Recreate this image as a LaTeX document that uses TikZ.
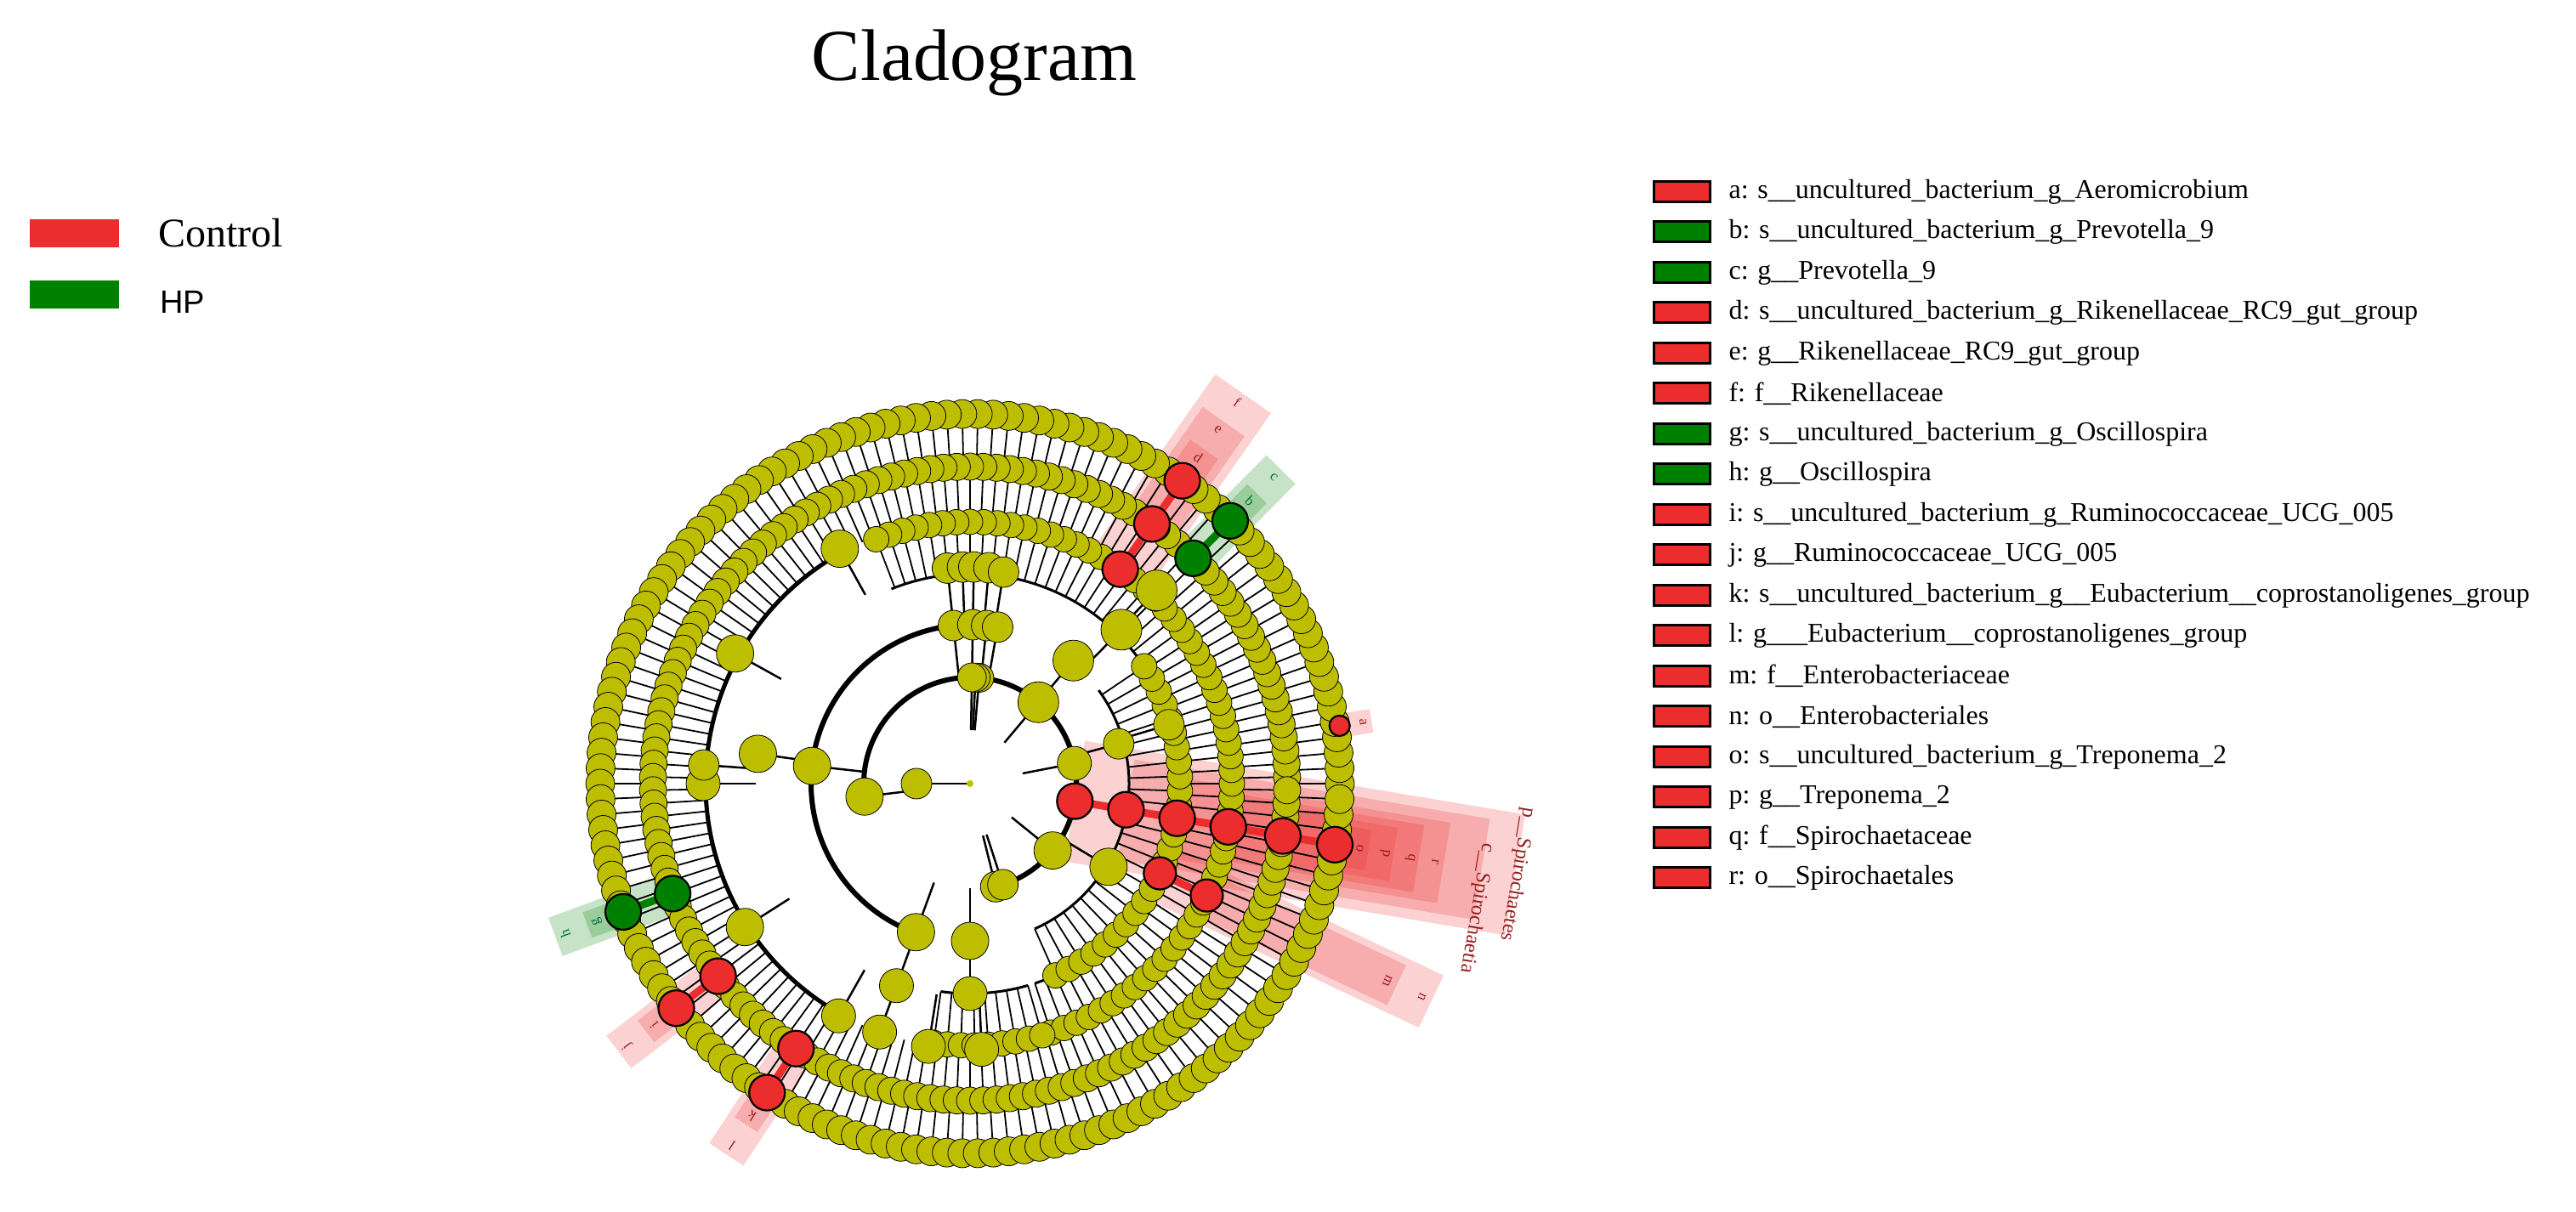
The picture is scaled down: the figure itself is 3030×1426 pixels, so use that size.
\documentclass[tikz,border=0pt]{standalone}
\usepackage{fontspec}
\setmainfont{Liberation Serif}
\newfontfamily\hpfont{Liberation Sans}
\definecolor{yel}{RGB}{190,190,0}
\definecolor{hred}{RGB}{235,45,45}
\definecolor{hgrn}{RGB}{0,128,0}
\definecolor{labc}{RGB}{150,30,30}
\definecolor{labg}{RGB}{0,110,60}
\begin{document}
\begin{tikzpicture}[x=1pt,y=1pt,
  yn/.style={fill=yel,draw=black,line width=0.8},
  rn/.style={fill=hred,draw=black,line width=2.2},
  gn/.style={fill=hgrn,draw=black,line width=2.2},
  sp/.style={line width=1.8},
  lt/.style={font=\fontsize{17}{17}\selectfont},
  leg/.style={anchor=west,font=\fontsize{32}{32}\selectfont},
  box/.style={draw=black,line width=3}]
\useasboundingbox (0,0) rectangle (3030,1426);
\node[font=\fontsize{86}{86}\selectfont] (title) at (1146,1352) {Cladogram};
% group legend
\fill[hred] (35,1135) rectangle (140,1168);
\node[anchor=west,font=\fontsize{48}{48}\selectfont] (ctl) at (183,1152) {Control};
\fill[hgrn] (35,1063) rectangle (140,1096);
\node[anchor=west,font=\hpfont\fontsize{38}{38}\selectfont] (hp) at (185,1071) {HP};
% taxa legend
\foreach \i/\c/\t in {0/hred/{a: s\_\_uncultured\_bacterium\_g\_Aeromicrobium},
 1/hgrn/{b: s\_\_uncultured\_bacterium\_g\_Prevotella\_9},
 2/hgrn/{c: g\_\_Prevotella\_9},
 3/hred/{d: s\_\_uncultured\_bacterium\_g\_Rikenellaceae\_RC9\_gut\_group},
 4/hred/{e: g\_\_Rikenellaceae\_RC9\_gut\_group},
 5/hred/{f: f\_\_Rikenellaceae},
 6/hgrn/{g: s\_\_uncultured\_bacterium\_g\_Oscillospira},
 7/hgrn/{h: g\_\_Oscillospira},
 8/hred/{i: s\_\_uncultured\_bacterium\_g\_Ruminococcaceae\_UCG\_005},
 9/hred/{j: g\_\_Ruminococcaceae\_UCG\_005},
 10/hred/{k: s\_\_uncultured\_bacterium\_g\_\_Eubacterium\_\_coprostanoligenes\_group},
 11/hred/{l: g\_\_\_Eubacterium\_\_coprostanoligenes\_group},
 12/hred/{m: f\_\_Enterobacteriaceae},
 13/hred/{n: o\_\_Enterobacteriales},
 14/hred/{o: s\_\_uncultured\_bacterium\_g\_Treponema\_2},
 15/hred/{p: g\_\_Treponema\_2},
 16/hred/{q: f\_\_Spirochaetaceae},
 17/hred/{r: o\_\_Spirochaetales}}{
  \pgfmathsetmacro\yy{1200.5-47.5*\i}
  \filldraw[box,fill=\c] (1945,\yy-12) rectangle (2011,\yy+12);
  \node[leg] at (2030,\yy) {\t};
}
\begin{scope}[shift={(1141,504)}]
% highlight wedges
\foreach \a/\ra/\rb/\w/\c in {-9.5/125/650/72/hred,-9.5/186/610/60/hred,-9.5/247/565/48/hred,-9.5/308/535/40/hred,-9.5/373/505/32/hred,-9.5/435/475/24/hred,
  8.9/440/478/14/hred,-25.3/247/600/34/hred,-25.3/308/555/26/hred,
  55/308/560/40/hred,55/373/520/30/hred,55/435/480/20/hred,
  45.3/373/520/24/hgrn,45.3/435/480/16/hgrn,
  200.3/373/520/24/hgrn,200.3/435/480/16/hgrn,
  217.4/373/520/24/hred,217.4/435/480/16/hred,
  236.7/373/522/24/hred,236.7/435/480/16/hred}{
  \fill[\c,opacity=.22,rotate=\a] (\ra,-\w) rectangle (\rb,\w);
}
% rings of spokes
\foreach \a in {0,2.4,...,358}{
  \draw[sp] (\a:373) -- (\a:435);
  \draw[sp] (\a+1.2:311) -- (\a+1.2:373);
}
\foreach \a in {-72,-69,...,112,262,265,...,286}{\draw[sp] (\a:247) -- (\a:308);}
\foreach \a in {-66,-62,...,36}{\draw[sp] (\a:187) -- (\a:247);}
% main arcs
\draw[line width=6] (-76:125) arc[start angle=-76,end angle=190,radius=125];
\draw[line width=6] (96:187) arc[start angle=96,end angle=250,radius=187];
\draw[line width=5] (119:311) arc[start angle=119,end angle=240,radius=311];
\draw[line width=3] (-66:187) arc[start angle=-66,end angle=36,radius=187];
\draw[line width=3] (-72:247) arc[start angle=-72,end angle=112,radius=247];
\draw[line width=3] (262:247) arc[start angle=262,end angle=286,radius=247];
% inner spokes
\foreach \a/\r in {180/63,187/125,85/125,87/125,89/125,50/125,11/125,-39/125,-76/125,-72/125,
  173.6/187,250/186,270/185,96/187,89/187,84/187,80/187,50/189,15/181,-31/190,
  172/252,250/253,270/247,45.5/254,16.5/244,96/255,92/255,89/255,85/255,81/252,
  180/314,176/314,151/316,119/316,212.5/314,240.5/314,250/311,261/313,272.5/313,46/316}{
  \pgfmathsetmacro\rp{max(\r-62,0)}
  \draw[line width=2.5] (\a:\rp) -- (\a:\r);
}
% outer nodes
\foreach \a in {0,2.4,...,358}{
  \filldraw[yn] (\a:435) circle (17);
}
\foreach \a in {1.2,3.6,...,359}{
  \filldraw[yn] (\a:373) circle (16);
}
\foreach \a in {-72,-69,...,112,262,265,...,286}{\filldraw[yn] (\a:308) circle (15);}
\foreach \a in {-66,-62,...,36}{\filldraw[yn] (\a:247) circle (15);}
% inner nodes
\foreach \a/\r/\s in {180/63/18,187/125/22,85/125/17,87/125/17,89/125/17,50/125/24,11/125/20,-39/125/22,-76/125/18,-72/125/18,
  173.6/187/22,250/186/22,270/185/22,96/187/18,89/187/18,84/187/18,80/187/18,50/189/24,15/181/18,-31/190/22,
  172/252/22,250/253/20,270/247/20,45.5/254/24,16.5/244/18,96/255/18,92/255/18,89/255/18,85/255/18,81/252/18,
  180/314/20,176/314/18,151/316/22,119/316/22,212.5/314/22,240.5/314/20,250/311/20,261/313/20,272.5/313/20,46/316/24}{
  \filldraw[yn] (\a:\r) circle (\s);
}
\fill[yel] (0,0) circle (4);
% highlighted clades
\draw[hred,line width=9] (-9.5:125) -- (-9.5:435);
\foreach \r in {125,186,247,308,373,435}{\filldraw[rn] (-9.5:\r) circle (21);}
\filldraw[rn] (8.9:440) circle (12);
\draw[hred,line width=9] (-25.3:247) -- (-25.3:308);
\filldraw[rn] (-25.3:247) circle (19); \filldraw[rn] (-25.3:308) circle (19);
\draw[hred,line width=9] (55:308) -- (55:435);
\foreach \r in {308,373,435}{\filldraw[rn] (55:\r) circle (21);}
\draw[hgrn,line width=9] (45.3:373) -- (45.3:435);
\filldraw[gn] (45.3:373) circle (21); \filldraw[gn] (45.3:435) circle (21);
\draw[hgrn,line width=9] (200.3:373) -- (200.3:435);
\filldraw[gn] (200.3:373) circle (21); \filldraw[gn] (200.3:435) circle (21);
\draw[hred,line width=9] (217.4:373) -- (217.4:435);
\filldraw[rn] (217.4:373) circle (21); \filldraw[rn] (217.4:435) circle (21);
\draw[hred,line width=9] (236.7:373) -- (236.7:435);
\filldraw[rn] (236.7:373) circle (21); \filldraw[rn] (236.7:435) circle (21);
% wedge labels
\foreach \a/\r/\c/\t/\ro in {-9.5/465/labc/o/-99.5,-9.5/495/labc/p/-99.5,-9.5/525/labc/q/-99.5,-9.5/555/labc/r/-99.5,
  8.9/468/labc/a/-81,-25.3/588/labc/n/-115,-25.3/543/labc/m/-115,
  55/548/labc/f/-35,55/508/labc/e/-35,55/468/labc/d/-35,
  45.3/508/labg/c/-45,45.3/468/labg/b/-45,
  200.3/508/labg/h/110,200.3/468/labg/g/110,
  217.4/508/labc/j/127,217.4/468/labc/i/127,
  236.7/510/labc/l/147,236.7/468/labc/k/147}{
  \node[lt,text=\c,rotate=\ro] at (\a:\r) {\t};
}
\node[font=\fontsize{24}{24}\selectfont,text=labc,rotate=-99.5] (phy) at (-9.4:653) {p\_\_Spirochaetes};
\node[font=\fontsize{24}{24}\selectfont,text=labc,rotate=-99.5] (cls) at (-13.8:614) {c\_\_Spirochaetia};
\end{scope}
\end{tikzpicture}
\end{document}
